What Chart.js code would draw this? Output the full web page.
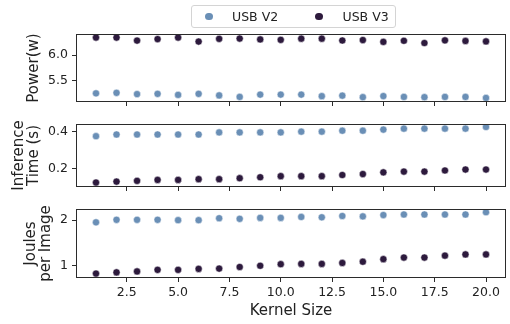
<!DOCTYPE html>
<html>
<head>
<meta charset="utf-8">
<script src="https://cdn.jsdelivr.net/npm/chart.js@4.4.1/dist/chart.umd.min.js"></script>
<style>
  html, body { margin: 0; padding: 0; background: #fff; }
  #wrap { position: relative; width: 510px; height: 324px; overflow: hidden; font-family: "DejaVu Sans", sans-serif; }
  .panel { position: absolute; left: 0; width: 510px; }
  .legend { position: absolute; left: 190.5px; top: 4.5px; width: 205.5px; height: 23.5px; box-sizing: border-box;
            border: 1px solid #d4d4d4; border-radius: 3px; background: #fff; font-size: 12.5px; color: #222; }
  .item { position: absolute; top: 0; height: 21.5px; line-height: 21.5px; white-space: nowrap; }
  .dot { position: absolute; width: 7.5px; height: 7.5px; border-radius: 50%; top: 7px; }
</style>
</head>
<body>
<div id="wrap">
  <div class="panel" style="top:0;height:113px"><canvas id="c1" width="510" height="113"></canvas></div>
  <div class="panel" style="top:113px;height:85px"><canvas id="c2" width="510" height="85"></canvas></div>
  <div class="panel" style="top:198px;height:126px"><canvas id="c3" width="510" height="126"></canvas></div>
  <div class="legend">
    <span class="dot" style="left:13.5px;background:#6a8fb6"></span>
    <span class="item" style="left:40.5px">USB V2</span>
    <span class="dot" style="left:123.5px;background:#2d1a3d"></span>
    <span class="item" style="left:151px">USB V3</span>
  </div>
</div>
<script>
// Kernel sizes on the shared x axis
const kernelSizes = [1, 2, 3, 4, 5, 6, 7, 8, 9, 10, 11, 12, 13, 14, 15, 16, 17, 18, 19, 20];

// Power draw (W)
const powerV2 = [5.25, 5.26, 5.235, 5.24, 5.22, 5.24, 5.21, 5.18, 5.225, 5.225,
                 5.225, 5.195, 5.205, 5.175, 5.196, 5.18, 5.175, 5.18, 5.18, 5.16];
const powerV3 = [6.345, 6.345, 6.285, 6.315, 6.345, 6.266, 6.32, 6.326, 6.308, 6.30,
                 6.323, 6.323, 6.287, 6.296, 6.26, 6.282, 6.238, 6.29, 6.278, 6.27];

// Inference time (s)
const timeV2 = [0.374, 0.383, 0.383, 0.383, 0.383, 0.383, 0.394, 0.394, 0.394, 0.394,
                0.398, 0.398, 0.403, 0.403, 0.409, 0.414, 0.414, 0.414, 0.414, 0.423];
const timeV3 = [0.128, 0.133, 0.137, 0.142, 0.142, 0.146, 0.146, 0.151, 0.156, 0.162,
                0.162, 0.162, 0.168, 0.173, 0.182, 0.186, 0.186, 0.192, 0.197, 0.197];

// Energy per image (J)
const joulesV2 = [1.952, 2.008, 2.008, 2.008, 2.0, 2.0, 2.042, 2.029, 2.05, 2.05,
                  2.071, 2.063, 2.092, 2.083, 2.113, 2.125, 2.125, 2.125, 2.125, 2.175];
const joulesV3 = [0.821, 0.848, 0.869, 0.904, 0.904, 0.925, 0.931, 0.967, 0.994, 1.029,
                  1.035, 1.035, 1.056, 1.083, 1.14, 1.175, 1.175, 1.217, 1.244, 1.244];

// Tick values
const xTicks = [2.5, 5, 7.5, 10, 12.5, 15, 17.5, 20];
const powerTicks = [5.5, 6.0];
const timeTicks = [0.2, 0.4];
const joulesTicks = [1, 2];

const seriesNames = ['USB V2', 'USB V3'];
const colorV2 = '#6a8fb6';
const colorV3 = '#2d1a3d';

const INK = '#222';
const AXIS_W = 76.5;

// Box around each plot area (all four spines)
const framePlugin = {
  id: 'frame',
  afterDraw(chart) {
    const { ctx, chartArea: a } = chart;
    ctx.save();
    ctx.strokeStyle = '#2b2b2b';
    ctx.lineWidth = 1;
    ctx.strokeRect(a.left, a.top, a.right - a.left, a.bottom - a.top);
    ctx.restore();
  }
};

function toPoints(values) {
  return kernelSizes.map((k, i) => ({ x: k, y: values[i] }));
}

function makePanel(id, cfg) {
  const xScale = {
    type: 'linear',
    min: 0.05, max: 20.95,
    afterBuildTicks: s => { s.ticks = xTicks.map(v => ({ value: v })); },
    afterFit: s => { s.height = cfg.xHeight; },
    border: { display: false },
    grid: { drawOnChartArea: false, drawTicks: true, tickLength: 4.5, tickColor: '#2b2b2b', tickWidth: 1 },
    ticks: {
      display: cfg.showX, autoSkip: false, maxRotation: 0, padding: 3,
      color: INK, font: { family: 'DejaVu Sans', size: 12.5 },
      callback: v => Number(v).toFixed(1)
    },
    title: cfg.showX ? {
      display: true, text: 'Kernel Size', color: INK,
      font: { family: 'DejaVu Sans', size: 15, lineHeight: 1.2 },
      padding: { top: 0, bottom: 4 }
    } : { display: false }
  };
  const yScale = {
    type: 'linear',
    min: cfg.yMin, max: cfg.yMax,
    afterBuildTicks: s => { s.ticks = cfg.yTicks.map(v => ({ value: v })); },
    afterFit: s => { s.width = AXIS_W; },
    border: { display: false },
    grid: { drawOnChartArea: false, drawTicks: true, tickLength: 4.5, tickColor: '#2b2b2b', tickWidth: 1 },
    ticks: {
      padding: 4, color: INK, font: { family: 'DejaVu Sans', size: 12.5 },
      callback: cfg.yFormat
    },
    title: {
      display: true, text: cfg.yTitle, color: INK,
      font: { family: 'DejaVu Sans', size: 15, lineHeight: 1.0 },
      padding: { top: cfg.titlePad, bottom: 0 }
    }
  };
  return new Chart(document.getElementById(id), {
    type: 'scatter',
    data: {
      datasets: [
        { label: seriesNames[0], data: toPoints(cfg.v2), backgroundColor: colorV2,
          borderColor: '#ffffff', borderWidth: 0.5, pointRadius: 3.6 },
        { label: seriesNames[1], data: toPoints(cfg.v3), backgroundColor: colorV3,
          borderColor: '#ffffff', borderWidth: 0.5, pointRadius: 3.6 }
      ]
    },
    options: {
      responsive: false,
      animation: false,
      events: [],
      layout: { padding: { top: cfg.padTop, right: 0.5, bottom: 0, left: 0 } },
      plugins: { legend: { display: false }, tooltip: { enabled: false } },
      scales: { x: xScale, y: yScale }
    },
    plugins: [framePlugin]
  });
}

makePanel('c1', {
  v2: powerV2, v3: powerV3, yMin: 5.09, yMax: 6.405, yTicks: powerTicks,
  yFormat: v => Number(v).toFixed(1), yTitle: 'Power(w)', titlePad: 27,
  padTop: 34.5, xHeight: 6.5, showX: false
});
makePanel('c2', {
  v2: timeV2, v3: timeV3, yMin: 0.107, yMax: 0.436, yTicks: timeTicks,
  yFormat: v => Number(v).toFixed(1), yTitle: ['Inference', 'Time (s)'], titlePad: 11.5,
  padTop: 6.5, xHeight: 6.5, showX: false
});
makePanel('c3', {
  v2: joulesV2, v3: joulesV3, yMin: 0.735, yMax: 2.235, yTicks: joulesTicks,
  yFormat: v => String(Math.round(v)), yTitle: ['Joules', 'per Image'], titlePad: 23.5,
  padTop: 7.5, xHeight: 46.5, showX: true
});
</script>
</body>
</html>
